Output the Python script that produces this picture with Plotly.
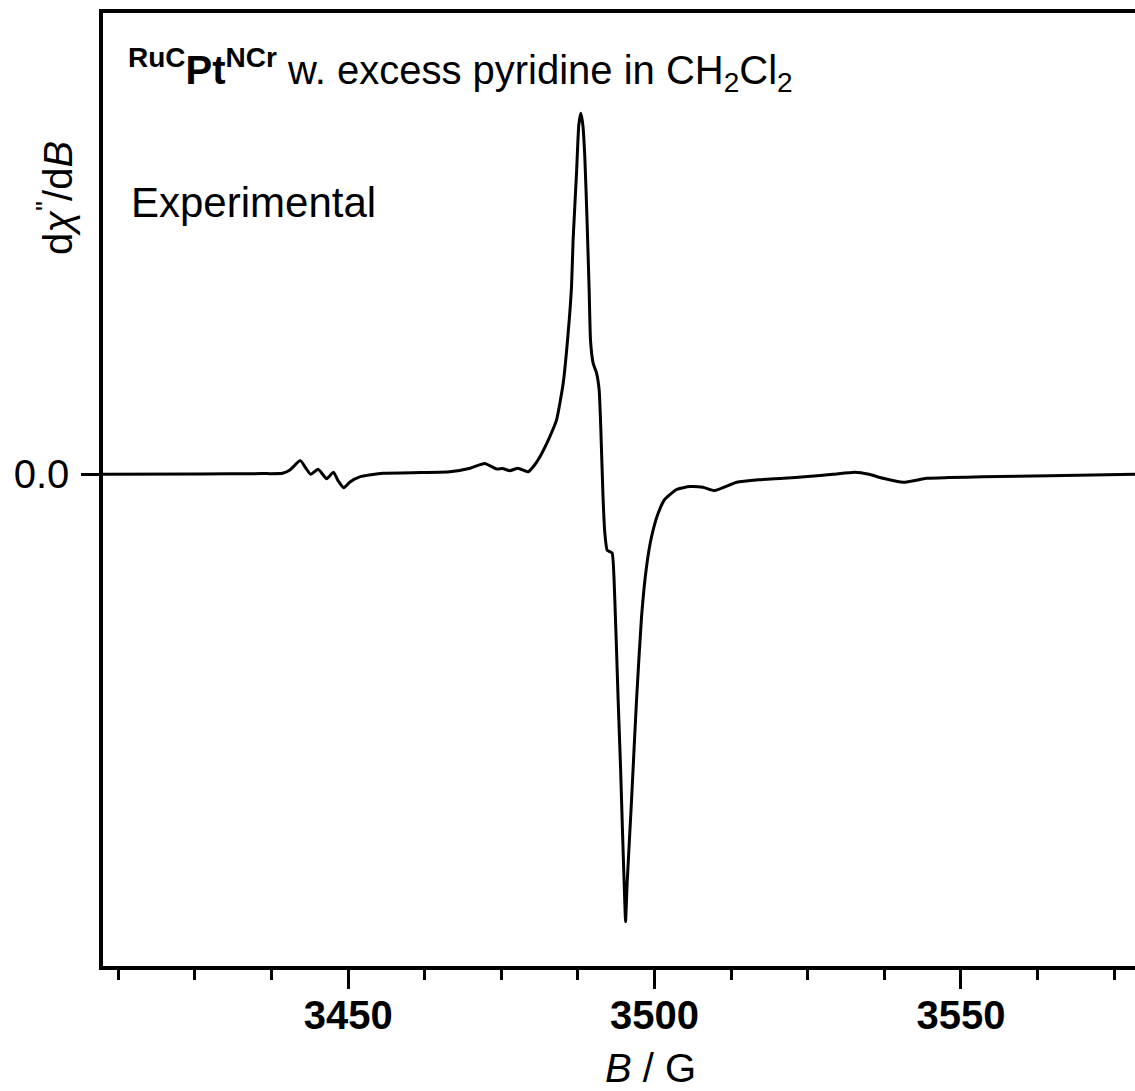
import plotly.graph_objects as go

# Magnetic field (G) and derivative EPR signal (arbitrary units, peak = 1)
field_G = [3410.0, 3425.8, 3436.0, 3439.3, 3440.5, 3442.2, 3443.1, 3443.9, 3445.1, 3446.5, 3447.6,
           3448.3, 3449.3, 3450.3, 3451.9, 3455.7, 3462.0, 3466.6, 3469.9, 3472.3, 3474.2, 3475.2,
           3476.4, 3477.7, 3479.4, 3480.3, 3481.3, 3482.9, 3484.0, 3485.1, 3485.90, 3486.45,
           3486.71, 3487.27, 3487.64, 3487.97, 3488.30, 3488.62, 3489.00, 3489.33, 3489.55,
           3489.98, 3490.53, 3490.96, 3491.24, 3491.61, 3491.89, 3492.26, 3492.70, 3493.08,
           3493.52, 3494.06, 3494.45, 3494.78, 3495.15, 3495.27, 3495.53, 3496.25, 3497.06,
           3497.88, 3498.69, 3499.51, 3500.59, 3501.68, 3503.6, 3505.8, 3507.9, 3509.8,
           3513.4, 3517.0, 3521.0, 3525.0, 3529.1, 3532.7, 3535.0, 3537.3, 3540.6, 3544.4,
           3548.0, 3553.6, 3564.5, 3578.4]
signal = [0.000, 0.001, 0.002, 0.003, 0.012, 0.038, 0.017, 0.000, 0.014, -0.012, 0.006,
          -0.016, -0.037, -0.021, -0.007, 0.003, 0.005, 0.007, 0.017, 0.030, 0.015, 0.016,
          0.010, 0.017, 0.007, 0.023, 0.049, 0.104, 0.150, 0.253, 0.391, 0.520,
          0.649, 0.835, 0.968, 1.000, 0.968, 0.880, 0.696, 0.510, 0.372,
          0.308, 0.281, 0.234, 0.123, -0.071, -0.163, -0.210, -0.214, -0.218,
          -0.348, -0.625, -0.810, -0.994, -1.188, -1.239, -1.132, -0.902, -0.625,
          -0.394, -0.256, -0.173, -0.108, -0.069, -0.042, -0.034, -0.036, -0.045,
          -0.022, -0.015, -0.011, -0.006, 0.000, 0.006, 0.000, -0.011, -0.022, -0.011,
          -0.009, -0.007, -0.004, 0.000]

x_range = [3410, 3578.4]
y_range = [-1.362, 1.278]
y_tickvals = [0]
y_ticktext = ["0.0"]

FONT = "Liberation Sans, Arial, sans-serif"

fig = go.Figure()
fig.add_trace(go.Scatter(x=field_G, y=signal, mode="lines",
                         line=dict(color="black", width=3, shape="spline", smoothing=0.5),
                         showlegend=False, hoverinfo="skip"))

fig.update_layout(
    width=1135, height=1091,
    margin=dict(l=103, r=0, t=13, b=125),
    paper_bgcolor="white", plot_bgcolor="white",
    font=dict(family=FONT, color="black"),
    xaxis=dict(range=x_range, showline=True, linewidth=3.5, linecolor="black",
               mirror=True, showgrid=False, zeroline=False,
               ticks="outside", ticklen=19, tickwidth=3, tickcolor="black",
               tick0=3400, dtick=50, ticklabelstandoff=-8,
               tickfont=dict(family=FONT, size=40, weight="bold", color="black"),
               minor=dict(ticks="outside", dtick=12.5, tick0=3400, ticklen=10,
                          tickwidth=3, tickcolor="black", showgrid=False)),
    yaxis=dict(range=y_range, showline=True, linewidth=3.5, linecolor="black",
               showgrid=False, zeroline=False,
               ticks="outside", ticklen=18, tickwidth=3, tickcolor="black",
               tickvals=y_tickvals, ticktext=y_ticktext, ticklabelstandoff=4,
               tickfont=dict(family=FONT, size=40, color="black")),
)

def px_x(p):
    return (p - 103) / 1032

def px_y(p):
    return (966 - p) / 953

fig.add_annotation(
    text="<sup><b>RuC</b></sup><b>Pt</b><sup><b>NCr</b></sup> w. excess pyridine in CH<sub>2</sub>Cl<sub>2</sub>",
    xref="paper", yref="paper", x=px_x(126), y=px_y(70), xanchor="left", yanchor="middle",
    showarrow=False, font=dict(family=FONT, size=40, color="black"))

fig.add_annotation(
    text="Experimental", xref="paper", yref="paper", x=px_x(129), y=px_y(203),
    xanchor="left", yanchor="middle", showarrow=False,
    font=dict(family=FONT, size=42, color="black"))

fig.add_annotation(
    text="d<i>χ</i><sup>\"</sup>/d<i>B</i>", textangle=-90,
    xref="paper", yref="paper", x=px_x(55), y=px_y(198),
    xanchor="center", yanchor="middle", showarrow=False,
    font=dict(family=FONT, size=40, color="black"))

fig.add_annotation(
    text="<i>B</i> / G", xref="paper", yref="paper", x=px_x(650), y=px_y(1068),
    xanchor="center", yanchor="middle", showarrow=False,
    font=dict(family=FONT, size=40, color="black"))

fig.write_html("out.html")
